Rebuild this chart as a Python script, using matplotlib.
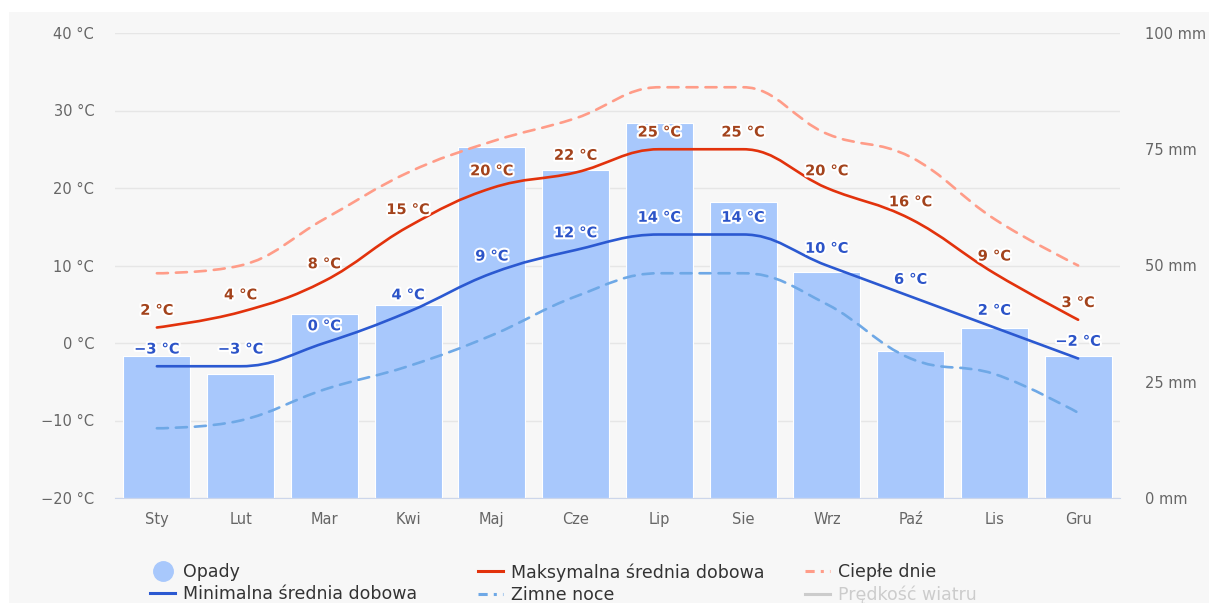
import matplotlib
matplotlib.use("Agg")
import matplotlib.pyplot as plt
import matplotlib.patheffects as pe
from matplotlib.path import Path
from matplotlib.patches import PathPatch, Rectangle
from matplotlib.lines import Line2D
import numpy as np

months = ["Sty", "Lut", "Mar", "Kwi", "Maj", "Cze", "Lip", "Sie", "Wrz", "Paź", "Lis", "Gru"]
opady = [30.5, 26.6, 39.6, 41.5, 75.5, 70.5, 80.6, 63.6, 48.5, 31.6, 36.6, 30.6]
t_max = [2, 4, 8, 15, 20, 22, 25, 25, 20, 16, 9, 3]
t_min = [-3, -3, 0, 4, 9, 12, 14, 14, 10, 6, 2, -2]
cieple_dnie = [9, 10, 16, 22, 26, 29, 33, 33, 27, 24, 16, 10]
zimne_noce = [-11, -10, -6, -3, 1, 6, 9, 9, 5, -2, -4, -9]

temp_ticks = [-20, -10, 0, 10, 20, 30, 40]
mm_ticks = [0, 25, 50, 75, 100]

W, H = 1209, 603
plt.rcParams['font.family'] = ['DejaVu Sans']


def spline_path(xs, ys, smoothing=1.5):
    # highcharts-like spline: bezier control points from neighbours
    n = len(xs)
    d = smoothing + 1
    left = [(xs[i], ys[i]) for i in range(n)]
    right = [(xs[i], ys[i]) for i in range(n)]
    for i in range(1, n - 1):
        px, py = xs[i], ys[i]
        lx, ly = xs[i - 1], ys[i - 1]
        nx, ny = xs[i + 1], ys[i + 1]
        lcx = (smoothing * px + lx) / d
        lcy = (smoothing * py + ly) / d
        rcx = (smoothing * px + nx) / d
        rcy = (smoothing * py + ny) / d
        corr = ((rcy - lcy) * (rcx - px)) / (rcx - lcx) + py - rcy
        lcy += corr
        rcy += corr
        if lcy > ly and lcy > py:
            lcy = max(ly, py)
            rcy = 2 * py - lcy
        elif lcy < ly and lcy < py:
            lcy = min(ly, py)
            rcy = 2 * py - lcy
        if rcy > ny and rcy > py:
            rcy = max(ny, py)
            lcy = 2 * py - rcy
        elif rcy < ny and rcy < py:
            rcy = min(ny, py)
            lcy = 2 * py - rcy
        left[i] = (lcx, lcy)
        right[i] = (rcx, rcy)
    verts = [(xs[0], ys[0])]
    codes = [Path.MOVETO]
    for i in range(1, n):
        verts += [right[i - 1], left[i], (xs[i], ys[i])]
        codes += [Path.CURVE4] * 3
    return Path(verts, codes)


fig = plt.figure(figsize=(W / 100, H / 100), dpi=100, facecolor="white")
fig.add_artist(Rectangle((9 / W, 0), 1, 1 - 12 / H, transform=fig.transFigure,
                         facecolor="#f7f7f7", edgecolor="none", zorder=-10))

ax_t = fig.add_axes([115 / W, 105 / H, 1005 / W, 465 / H])
ax_t.patch.set_visible(False)
ax_t.set_ylim(-20, 40)
ax_t.set_xlim(-0.5, 11.5)
ax_t.set_yticks(temp_ticks, labels=[f"{v} °C".replace("-", "\u2212") for v in temp_ticks])
ax_t.set_xticks(range(len(months)), labels=months)
ax_t.yaxis.grid(True, color="#e6e6e6", lw=1)
ax_t.set_axisbelow(True)
ax_t.tick_params(axis="y", length=0, pad=15, labelsize=10.5, labelcolor="#666666")
ax_t.tick_params(axis="x", length=0, pad=10, labelsize=10.5, labelcolor="#666666")
for s in ax_t.spines.values():
    s.set_visible(False)

# precipitation bars on right axis
ax_mm = ax_t.twinx()
ax_mm.set_ylim(0, 100)
ax_mm.bar(range(len(months)), opady, width=0.8, color="#a8c8fc", edgecolor="white", lw=0.8)
ax_mm.set_yticks(mm_ticks, labels=[f"{v} mm" for v in mm_ticks])
ax_mm.tick_params(axis="y", length=0, pad=18, labelsize=10.5, labelcolor="#666666")
for k, s in ax_mm.spines.items():
    s.set_visible(k == "bottom")
ax_mm.spines["bottom"].set_color("#ccd6eb")

# temperature lines on top
ax_ln = ax_t.twinx()
ax_ln.set_ylim(-20, 40)
ax_ln.yaxis.set_visible(False)
for s in ax_ln.spines.values():
    s.set_visible(False)

x = list(range(len(months)))
series = [
    (cieple_dnie, "#ff9c88", (4.2, 3.0)),
    (zimne_noce, "#6ea8e6", (4.2, 3.0)),
    (t_max, "#e2320c", None),
    (t_min, "#2b59d1", None),
]
for ys, col, dash in series:
    patch = PathPatch(spline_path(x, ys), facecolor="none", edgecolor=col, lw=1.9,
                      capstyle="round", joinstyle="round")
    if dash:
        patch.set_linestyle((0, dash))
    ax_ln.add_patch(patch)

outline = [pe.withStroke(linewidth=3, foreground="white")]
for ys, col in [(t_max, "#a3431c"), (t_min, "#2c54c8")]:
    for i, v in enumerate(ys):
        ax_ln.annotate(f"{v} °C".replace("-", "\u2212"), (i, v), xytext=(0, 7),
                       textcoords="offset points", ha="center", va="bottom",
                       fontsize=10.5, fontweight="bold", color=col, path_effects=outline)

# legend in three fixed-width columns
def line_handle(col, dash=None):
    h = Line2D([], [], color=col, lw=2.2)
    if dash:
        h.set_dashes(dash)
    return h

cols = [
    (150, [Line2D([], [], marker="o", ls="none", markersize=14, color="#a8c8fc"),
           line_handle("#2b59d1")],
     ["Opady", "Minimalna średnia dobowa"]),
    (478, [line_handle("#e2320c"), line_handle("#6ea8e6", (3, 2, 1, 2))],
     ["Maksymalna średnia dobowa", "Zimne noce"]),
    (805, [line_handle("#ff9c88", (3, 2, 1, 2)), line_handle("#cccccc")],
     ["Ciepłe dnie", "Prędkość wiatru"]),
]
for px, handles, labels in cols:
    leg = fig.legend(handles, labels, loc="upper left", bbox_to_anchor=(px / W, 1 - 563 / H),
                     frameon=False, fontsize=12.5, borderpad=0, handlelength=1.45,
                     handletextpad=0.45, labelspacing=0.25, borderaxespad=0)
    for t in leg.get_texts():
        t.set_color("#333333" if t.get_text() != "Prędkość wiatru" else "#cccccc")

fig.savefig("out.png", dpi=100, facecolor="white")
